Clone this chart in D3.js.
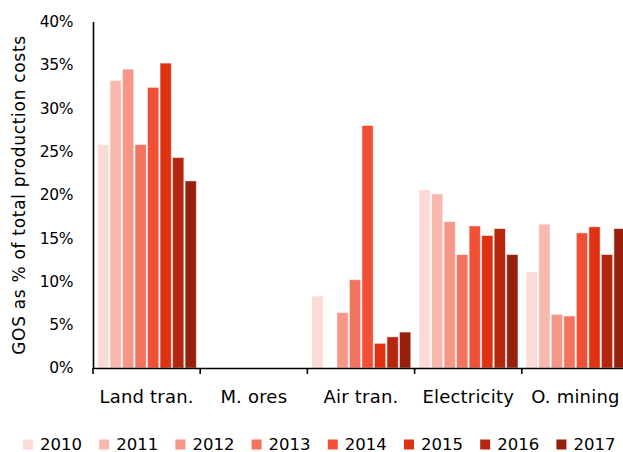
<!DOCTYPE html>
<html>
<head>
<meta charset="utf-8">
<script src="https://cdn.jsdelivr.net/npm/d3@7"></script>
<style>
  html, body { margin: 0; padding: 0; background: #fff; }
  svg { display: block; font-family: "DejaVu Sans", Verdana, sans-serif; }
</style>
</head>
<body>
<svg id="chart" width="623" height="452"></svg>
<script>
const categories = ["Land tran.", "M. ores", "Air tran.", "Electricity", "O. mining"];
const years = ["2010", "2011", "2012", "2013", "2014", "2015", "2016", "2017"];
const colors = ["#fcdad5", "#f9b8ae", "#f69686", "#f3735e", "#f05136", "#df3212", "#b4260d", "#961f0d"];
// values per year (one array per series), in category order
const v2010 = [25.8, 0, 8.3, 20.6, 11.1];
const v2011 = [33.2, 0, 0, 20.1, 16.6];
const v2012 = [34.5, 0, 6.4, 16.9, 6.2];
const v2013 = [25.8, 0, 10.2, 13.1, 6.0];
const v2014 = [32.4, 0, 28.0, 16.4, 15.6];
const v2015 = [35.2, 0, 2.85, 15.3, 16.3];
const v2016 = [24.3, 0, 3.6, 16.1, 13.1];
const v2017 = [21.6, 0, 4.15, 13.1, 16.1];
const series = [v2010, v2011, v2012, v2013, v2014, v2015, v2016, v2017];
const yTicks = [0, 5, 10, 15, 20, 25, 30, 35, 40];
const yTitle = "GOS as % of total production costs";

const svg = d3.select("#chart");
const x0 = 93, x1 = 629, yBottom = 368, yTop = 21.5;

const x = d3.scaleBand().domain(categories).range([x0, x1]).paddingInner(0).paddingOuter(0);
const xi = d3.scaleBand().domain(years).range([3.8, x.bandwidth() - 3.2]).padding(0);
const y = d3.scaleLinear().domain([0, 40]).range([yBottom, yTop]);

// bars
const groups = svg.append("g").selectAll("g").data(categories).join("g")
  .attr("transform", d => `translate(${x(d)},0)`);
groups.each(function(cat, ci) {
  const data = years.map((yr, si) => ({ yr, si, v: series[si][ci] }));
  d3.select(this).selectAll("rect").data(data.filter(d => d.v > 0)).join("rect")
    .attr("x", d => xi(d.yr) + 0.6)
    .attr("width", xi.bandwidth() - 1.2)
    .attr("y", d => y(d.v))
    .attr("height", d => y(0) - y(d.v))
    .attr("fill", d => colors[d.si])
    .attr("stroke", "#fff")
    .attr("stroke-opacity", 0.55)
    .attr("stroke-width", 1);
});

// y axis
const yAxis = d3.axisLeft(y).tickValues(yTicks).tickSize(0).tickPadding(20).tickFormat(d => d + "%");
const gy = svg.append("g").attr("transform", `translate(${x0},0)`).call(yAxis);
gy.select(".domain").attr("stroke", "#000").attr("stroke-width", 1.6);
gy.selectAll("text").attr("font-size", "15.5px").attr("fill", "#000")
  .attr("font-family", "DejaVu Sans, sans-serif").attr("letter-spacing", "-0.4px");

// x axis
const xAxis = d3.axisBottom(x).tickSize(0).tickPadding(0);
const gx = svg.append("g").attr("transform", `translate(0,${yBottom})`).call(xAxis);
gx.select(".domain").attr("stroke", "#000").attr("stroke-width", 1.6);
gx.selectAll(".tick text").attr("font-size", "18px").attr("fill", "#000")
  .attr("font-family", "DejaVu Sans, sans-serif")
  .attr("dy", null).attr("y", 35).attr("letter-spacing", "0.2px");
// boundary tick marks
gx.selectAll(".sep").data(categories).join("line").attr("class", "sep")
  .attr("x1", d => x(d)).attr("x2", d => x(d))
  .attr("y1", 0).attr("y2", 6)
  .attr("stroke", "#000").attr("stroke-width", 1.6);

// y title
svg.append("text")
  .attr("transform", `translate(25,195) rotate(-90)`)
  .attr("text-anchor", "middle")
  .attr("font-size", "17px")
  .attr("letter-spacing", "0.7px")
  .attr("fill", "#000")
  .text(yTitle);

// legend
const legend = svg.append("g").selectAll("g").data(years).join("g")
  .attr("transform", (d, i) => `translate(${23 + i * 76.2},0)`);
legend.append("rect").attr("x", 0).attr("y", 439.5).attr("width", 10).attr("height", 10)
  .attr("fill", (d, i) => colors[i]);
legend.append("text").attr("x", 17).attr("y", 449.5).attr("font-size", "16.5px")
  .attr("fill", "#000").text(d => d);
</script>
</body>
</html>
